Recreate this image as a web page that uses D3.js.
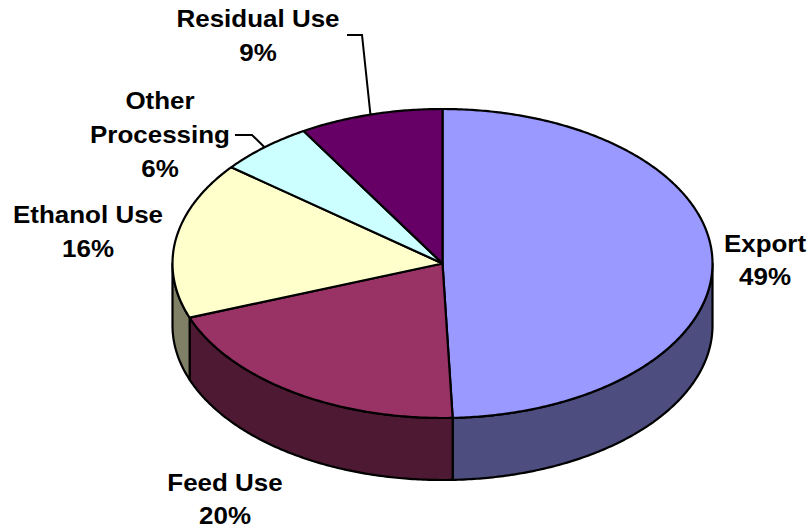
<!DOCTYPE html>
<html>
<head>
<meta charset="utf-8">
<script src="https://cdn.jsdelivr.net/npm/d3@7/dist/d3.min.js"></script>
<style>
  html, body { margin: 0; padding: 0; background: #ffffff; }
  svg { display: block; }
</style>
</head>
<body>
<svg id="chart" width="811" height="529"></svg>
<script>
// ---- data ----
const categories = ["Export", "Feed Use", "Ethanol Use", "Other Processing", "Residual Use"];
const shares = [49.4, 19.9, 16.4, 5.7, 8.6];
const topColors = ["#9999FF", "#993366", "#FFFFCC", "#CCFFFF", "#660066"];
const sideColors = ["#4D4D80", "#4D1933", "#808066", "#668080", "#330033"];

// ---- layout ----
const W = 811, H = 529;
const cx = 442.5, cy = 263.5, rx = 270, ry = 154.5, depth = 62;
// label layout: [center x, first baseline y, line breaks]
const labelLayout = [
  { x: 765, y: 252, gap: 33, lines: ["Export"] },
  { x: 225, y: 491, gap: 33, lines: ["Feed Use"] },
  { x: 88,  y: 223, gap: 34, lines: ["Ethanol Use"] },
  { x: 160, y: 109, gap: 34, lines: ["Other", "Processing"] },
  { x: 258, y: 27,  gap: 34, lines: ["Residual Use"] }
];
// leader lines: elbow near the label for slices that have one
const leaders = [null, null, null,
  { x0: 235, y: 135, x1: 252 },
  { x0: 347, y: 35,  x1: 362 }];

const svg = d3.select("#chart");

const data = categories.map((c, i) => ({ name: c, value: shares[i], i }));
const total = d3.sum(shares);
const pie = d3.pie().value(d => d.value).sort(null).startAngle(0).endAngle(2 * Math.PI);
const arcs = pie(data);

// ellipse point projection (angle measured clockwise from 12 o'clock)
const px = a => cx + rx * Math.sin(a);
const py = (a, dz = 0) => cy - ry * Math.cos(a) + dz;

function sample(a0, a1, dz) {
  const n = Math.max(2, Math.ceil(Math.abs(a1 - a0) / 0.01));
  const pts = [];
  for (let k = 0; k <= n; k++) {
    const a = a0 + (a1 - a0) * k / n;
    pts.push([px(a), py(a, dz)]);
  }
  return pts;
}
const line = d3.line();

const gSide = svg.append("g");
const gTop = svg.append("g");

// side faces: visible between PI/2 and 3PI/2
const lo = Math.PI / 2, hi = 3 * Math.PI / 2;
arcs.forEach(a => {
  const s = Math.max(a.startAngle, lo), e = Math.min(a.endAngle, hi);
  if (e <= s) return;
  const top = sample(s, e, 0);
  const bot = sample(e, s, depth);
  gSide.append("path")
    .attr("d", line(top.concat(bot)) + "Z")
    .attr("fill", sideColors[a.data.i])
    .attr("stroke", "#000")
    .attr("stroke-width", 2.2)
    .attr("stroke-linejoin", "round");
});

// top faces
arcs.forEach(a => {
  const pts = [[cx, cy]].concat(sample(a.startAngle, a.endAngle, 0));
  gTop.append("path")
    .attr("d", line(pts) + "Z")
    .attr("fill", topColors[a.data.i])
    .attr("stroke", "#000")
    .attr("stroke-width", 2.2)
    .attr("stroke-linejoin", "round");
});

// leader lines
arcs.forEach(a => {
  const L = leaders[a.data.i];
  if (!L) return;
  const mid = (a.startAngle + a.endAngle) / 2;
  svg.append("path")
    .attr("d", line([[L.x0, L.y], [L.x1, L.y], [px(mid), py(mid)]]))
    .attr("fill", "none")
    .attr("stroke", "#000")
    .attr("stroke-width", 2);
});

// labels
arcs.forEach(a => {
  const lay = labelLayout[a.data.i];
  const lines = lay.lines.concat([Math.round(a.data.value / total * 100) + "%"]);
  const g = svg.append("g");
  lines.forEach((t, k) => {
    g.append("text")
      .attr("transform", `translate(${lay.x},${lay.y + k * lay.gap}) scale(1.06,1)`)
      .attr("text-anchor", "middle")
      .attr("font-family", "Liberation Sans, Arial, sans-serif")
      .attr("font-weight", "bold")
      .attr("font-size", 24.5)
      .attr("fill", "#000")
      .text(t);
  });
});
</script>
</body>
</html>
